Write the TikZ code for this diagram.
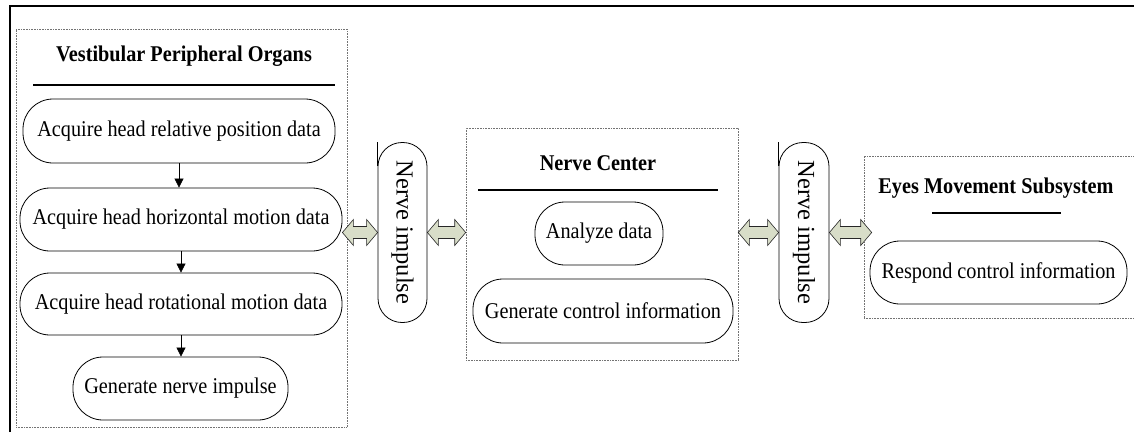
\documentclass[tikz,border=0pt]{standalone}
\usepackage{fontspec}
\setmainfont{Liberation Serif}
\newfontfamily\condfont[FakeStretch=0.9]{Liberation Serif}
\usetikzlibrary{arrows.meta,calc}
\definecolor{arrfill}{RGB}{216,221,200}
\newcommand\dblarrow[2]{\filldraw[dblstyle] (#1) -- ++(11,-13) -- ++(0,7) -- ($(#2)+(-11,-6)$) -- ++(0,-7) -- (#2) -- ++(-11,13) -- ++(0,-7) -- ($(#1)+(11,6)$) -- ++(0,7) -- cycle;}
\begin{document}
\begin{tikzpicture}[x=1pt,y=-1pt,
  grpbox/.style={draw=black!55,densely dotted,line width=0.6pt,inner sep=0pt},
  ttl/.style={font=\condfont\fontsize{22.5}{26}\selectfont\bfseries,anchor=base,inner sep=0pt},
  pill/.style={draw,line width=0.8pt,rounded corners=30pt,inner sep=0pt,font=\condfont\fontsize{22.5}{26}\selectfont},
  vpill/.style={draw,line width=0.8pt,rounded corners=24pt,inner sep=0pt,font=\fontsize{24.5}{28}\selectfont},
  dblstyle/.style={draw=black!85,line width=0.6pt,fill=arrfill,line join=miter},
  flow/.style={-{Triangle[length=9pt,width=9pt]},line width=0.6pt},
  rule/.style={line width=1.4pt}]
\useasboundingbox (0,0) rectangle (1134,432);
% outer frame (cut at right and bottom)
\draw[line width=1.5pt] (10,432) -- (10,6) -- (1134,6);

% left group
\node[grpbox,minimum width=331pt,minimum height=398pt] (vbox) at (181.5,228) {};
\node[ttl] (vt) at (184,61) {Vestibular Peripheral Organs};
\draw[rule] (33,85) -- (335,85);
\node[pill,minimum width=312pt,minimum height=64pt] (b1) at (179,131) {Acquire head relative position data};
\node[pill,minimum width=322pt,minimum height=63pt] (b2) at (181,219.5) {Acquire head horizontal motion data};
\node[pill,minimum width=322pt,minimum height=62pt] (b3) at (181,304) {Acquire head rotational motion data};
\node[pill,minimum width=215pt,minimum height=63pt] (b4) at (180.5,388.5) {Generate nerve impulse};
\draw[flow] (b1.south) -- (b1.south |- b2.north);
\draw[flow] (b2.south) -- (b2.south |- b3.north);
\draw[flow] (b3.south) -- (b3.south |- b4.north);

% middle group
\node[grpbox,minimum width=272pt,minimum height=232pt] (nbox) at (602,244) {};
\node[ttl] (nt) at (598,170) {Nerve Center};
\draw[rule] (478,190) -- (718,190);
\node[pill,minimum width=128pt,minimum height=63pt] (ad) at (599,233.5) {Analyze data};
\node[pill,minimum width=260pt,minimum height=64pt] (gc) at (603,311) {Generate control information};

% right group
\node[grpbox,minimum width=276pt,minimum height=162pt] (ebox) at (1002,237) {};
\node[ttl] (et) at (996,193) {Eyes Movement Subsystem};
\draw[rule] (932,213) -- (1061,213);
\node[pill,minimum width=257pt,minimum height=63pt] (rc) at (998.5,272.5) {Respond control information};

% nerve impulse pills
\node[vpill,minimum width=49pt,minimum height=180pt] (np1) at (402.5,232.5) {\rotatebox{-90}{Nerve impulse}};
\draw[line width=0.8pt] (np1.north west) -- ++(0,24);
\node[vpill,minimum width=50pt,minimum height=180pt] (np2) at (804,232.5) {\rotatebox{-90}{Nerve impulse}};
\draw[line width=0.8pt] (np2.north west) -- ++(0,24);

% double arrows
\coordinate (a1s) at (b2.east |- np1.west);
\coordinate (a2e) at (nbox.west |- np1.east);
\coordinate (a3s) at (nbox.east |- np2.west);
\coordinate (a4e) at ($(ebox.west |- np2.east)+(8,0)$);
\dblarrow{a1s}{np1.west}
\dblarrow{np1.east}{a2e}
\dblarrow{a3s}{np2.west}
\dblarrow{np2.east}{a4e}
\end{tikzpicture}
\end{document}
